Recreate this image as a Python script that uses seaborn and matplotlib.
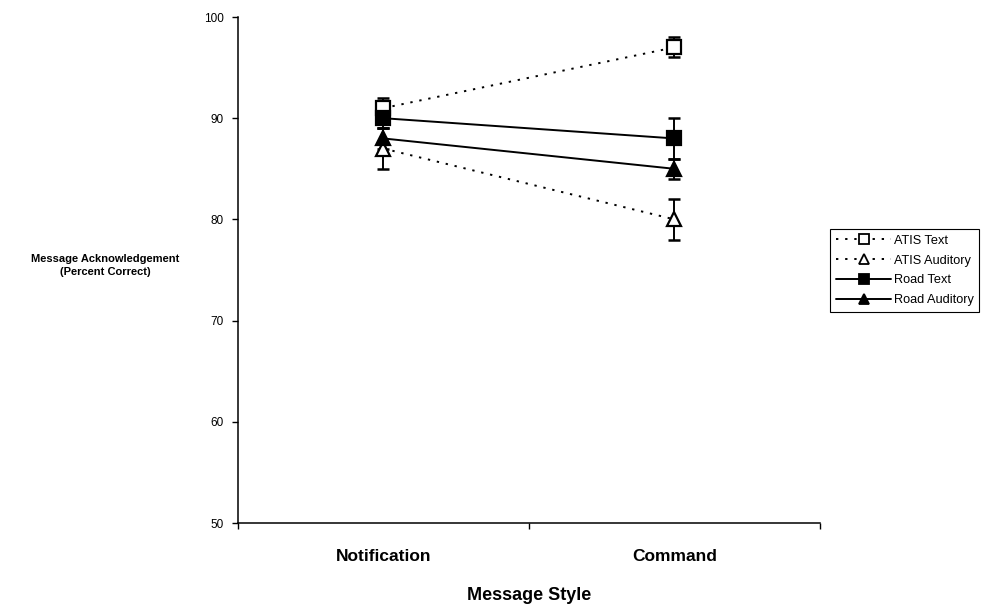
import matplotlib
matplotlib.use("Agg")
import matplotlib.pyplot as plt
import seaborn as sns
import pandas as pd

# Message acknowledgement (percent correct) by message style and display group
styles = ["Notification", "Command"]
series_names = ["ATIS Text", "ATIS Auditory", "Road Text", "Road Auditory"]
atis_text = [91, 97]
atis_auditory = [87, 80]
road_text = [90, 88]
road_auditory = [88, 85]
atis_text_err = [1, 1]
atis_auditory_err = [2, 2]
road_text_err = [1, 2]
road_auditory_err = [1, 1]
y_ticks = [50, 60, 70, 80, 90, 100]

values = [atis_text, atis_auditory, road_text, road_auditory]
errors = [atis_text_err, atis_auditory_err, road_text_err, road_auditory_err]

rows = []
for name, vals, errs in zip(series_names, values, errors):
    for i, (style, v, e) in enumerate(zip(styles, vals, errs)):
        rows.append({"group": name, "style": style, "pos": i + 0.5,
                     "value": v, "err": e})
df = pd.DataFrame(rows)

sns.set_theme(style="ticks")
plt.rcParams["font.family"] = ["Liberation Sans", "DejaVu Sans"]
plt.rcParams["text.color"] = "black"
plt.rcParams["axes.labelcolor"] = "black"
plt.rcParams["xtick.color"] = "black"
plt.rcParams["ytick.color"] = "black"

fig = plt.figure(figsize=(9.92, 6.12), dpi=100)
ax = fig.add_axes([0.2399, 0.1454, 0.5867, 0.8268])

looks = {
    "ATIS Text": dict(ls=(0, (1.2, 3.5)), marker="s", mfc="white"),
    "ATIS Auditory": dict(ls=(0, (1.2, 3.5)), marker="^", mfc="white"),
    "Road Text": dict(ls="-", marker="s", mfc="black"),
    "Road Auditory": dict(ls="-", marker="^", mfc="black"),
}

handles = []
for name in series_names:
    sub = df[df["group"] == name]
    lk = looks[name]
    ax.errorbar(sub["pos"], sub["value"], yerr=sub["err"], fmt="none",
                ecolor="black", elinewidth=1.4, capsize=4.5, capthick=1.8,
                zorder=2)
    sns.lineplot(data=sub, x="pos", y="value", ax=ax, color="black",
                 linewidth=1.4, linestyle=lk["ls"], marker=lk["marker"],
                 markersize=10, markerfacecolor=lk["mfc"],
                 markeredgecolor="black", markeredgewidth=1.6,
                 label=name, legend=False, zorder=3)
    handles.append(plt.Line2D([], [], color="black", linewidth=1.4,
                              linestyle=lk["ls"], marker=lk["marker"],
                              markersize=7, markerfacecolor=lk["mfc"],
                              markeredgecolor="black", markeredgewidth=1.3))

ax.set_xlim(0, 2)
ax.set_ylim(50, 100)
ax.set_yticks(y_ticks)
ax.set_yticklabels([str(t) for t in y_ticks], fontsize=8.5)
ax.set_xticks([0, 1, 2])
ax.set_xticklabels(["", "", ""])
ax.set_xticks([0.5, 1.5], minor=True)
ax.set_xticklabels(styles, minor=True, fontsize=12.5, fontweight="bold")
ax.tick_params(axis="x", which="minor", length=0, pad=19, bottom=True)
ax.tick_params(axis="x", which="major", direction="out", length=4,
               width=1, bottom=True)
ax.tick_params(axis="y", which="major", direction="out", length=4,
               width=1, left=True, pad=6)

for side in ["top", "right"]:
    ax.spines[side].set_visible(False)
for side in ["left", "bottom"]:
    ax.spines[side].set_color("black")
    ax.spines[side].set_linewidth(1.1)

ax.set_xlabel("Message Style", fontsize=13, fontweight="bold", labelpad=16)
ax.set_ylabel("")
fig.text(0.106, 0.566, "Message Acknowledgement\n(Percent Correct)",
         ha="center", va="center", fontsize=8, fontweight="bold",
         linespacing=1.3)

leg = fig.legend(handles, series_names, loc="center left",
                 bbox_to_anchor=(0.837, 0.558), fontsize=9.2, frameon=True,
                 fancybox=False, edgecolor="black", framealpha=1,
                 handlelength=4.3, handletextpad=0.2, borderpad=0.45,
                 labelspacing=0.62, borderaxespad=0)
leg.get_frame().set_linewidth(0.8)

fig.savefig("out.png", dpi=100, facecolor="white")
